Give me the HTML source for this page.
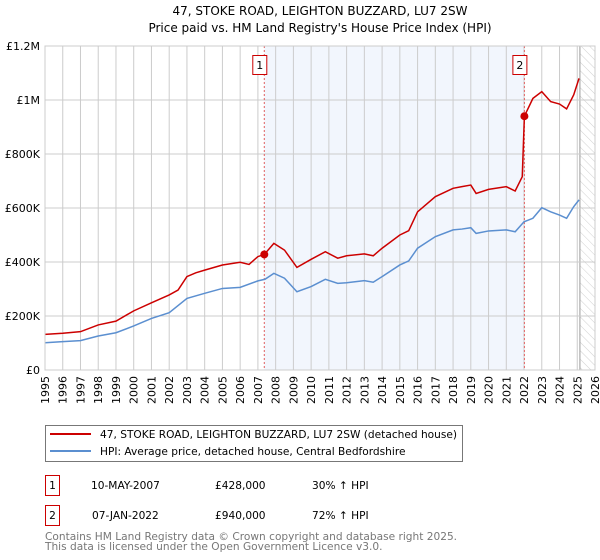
<!DOCTYPE html>
<html><head><meta charset="utf-8"><style>
body{margin:0;background:#fff;font-family:"DejaVu Sans","Liberation Sans",sans-serif;}
svg{display:block}
</style></head><body>
<svg width="600" height="560" xmlns="http://www.w3.org/2000/svg" font-family="DejaVu Sans, Liberation Sans, sans-serif">
<text x="320" y="15" text-anchor="middle" font-size="12">47, STOKE ROAD, LEIGHTON BUZZARD, LU7 2SW</text>
<text x="320" y="32" text-anchor="middle" font-size="12">Price paid vs. HM Land Registry's House Price Index (HPI)</text>
<defs><pattern id="hatch" width="6" height="6" patternUnits="userSpaceOnUse" patternTransform="rotate(-45)"><line x1="0" y1="0" x2="0" y2="6" stroke="#bbb" stroke-width="0.7"/></pattern></defs>
<g id="plot"></g>
<g>
<rect x="45.5" y="425.5" width="417" height="36" fill="#fff" stroke="#777"/>
<line x1="50" y1="434" x2="91" y2="434" stroke="#cc0000" stroke-width="2"/>
<text x="100" y="438" font-size="10.6">47, STOKE ROAD, LEIGHTON BUZZARD, LU7 2SW (detached house)</text>
<line x1="50" y1="451" x2="91" y2="451" stroke="#5b8fd0" stroke-width="2"/>
<text x="100" y="455" font-size="10.6">HPI: Average price, detached house, Central Bedfordshire</text>
</g>
<g font-size="10.6">
<rect x="45.5" y="475.5" width="14" height="20" fill="#fff" stroke="#cc0000"/>
<text x="52.5" y="489" text-anchor="middle">1</text>
<text x="91" y="489">10-MAY-2007</text>
<text x="215" y="489">£428,000</text>
<text x="312" y="489">30% ↑ HPI</text>
<rect x="45.5" y="505.5" width="14" height="20" fill="#fff" stroke="#cc0000"/>
<text x="52.5" y="519" text-anchor="middle">2</text>
<text x="92" y="519">07-JAN-2022</text>
<text x="215" y="519">£940,000</text>
<text x="312" y="519">72% ↑ HPI</text>
</g>
<text x="45" y="540" font-size="10.6" fill="#777">Contains HM Land Registry data © Crown copyright and database right 2025.</text>
<text x="45" y="550" font-size="10.6" fill="#777">This data is licensed under the Open Government Licence v3.0.</text>
</svg>
<script>
const hpiYears=[1995,1996,1997,1998,1999,2000,2001,2002,2003,2004,2005,2006,2007,2007.4,2007.9,2008.5,2009.2,2010,2010.8,2011.5,2012,2013,2013.5,2014,2015,2015.5,2016,2017,2018,2018.5,2019,2019.3,2020,2021,2021.5,2022,2022.5,2023,2023.5,2024,2024.4,2024.8,2025.1];
const hpiValues=[101,105,109,126,138,163,191,212,265,284,302,306,330,336,358,340,290,309,336,321,323,331,325,346,389,404,451,494,519,522,527,506,515,519,512,549,562,601,586,574,562,605,630];
const priceYears=[1995,1996,1997,1998,1999,2000,2001,2002,2002.5,2003,2003.5,2004,2005,2006,2006.5,2007,2007.36,2007.9,2008.5,2009.2,2010,2010.8,2011.5,2012,2013,2013.5,2014,2015,2015.5,2016,2017,2018,2018.5,2019,2019.3,2020,2021,2021.5,2021.9,2022.02,2022.5,2023,2023.5,2024,2024.4,2024.8,2025.1];
const priceValues=[132,136,142,167,181,219,249,278,296,346,360,370,389,399,391,420,428,469,444,380,410,438,414,423,430,423,451,500,516,586,642,673,679,685,654,669,679,663,716,940,1006,1031,994,985,967,1019,1080];
const saleYears=[2007.36,2022.02];
const saleValues=[428,940];
const saleLabels=["1","2"];
const yTicks=[0,200,400,600,800,1000,1200];
const yTickLabels=["£0","£200K","£400K","£600K","£800K","£1M","£1.2M"];
const xTicks=[];for(let y=1995;y<=2026;y++)xTicks.push(y);

const X0=45,X1=595,Y0=370,Y1=46;
const x=v=>X0+(v-1995)/(2026-1995)*(X1-X0);
const y=v=>Y0-v/1200*(Y0-Y1);
const NS="http://www.w3.org/2000/svg";
const g=document.getElementById('plot');
function mk(t,a){const e=document.createElementNS(NS,t);for(const k in a)e.setAttribute(k,a[k]);g.appendChild(e);return e;}

const shade=mk('rect',{x:x(saleYears[0]),y:Y1,width:x(saleYears[1])-x(saleYears[0]),height:Y0-Y1,fill:'#f2f6fd'});


const hat=mk('rect',{x:x(2025.15),y:Y1,width:X1-x(2025.15),height:Y0-Y1,fill:'url(#hatch)'});


mk('line',{x1:x(2025.15),x2:x(2025.15),y1:Y1,y2:Y0,stroke:'#999','stroke-width':1});

xTicks.forEach((t,i)=>{
 const l=mk('line',{x1:x(t),x2:x(t),y1:Y1,y2:Y0,stroke:'#cccccc','stroke-width':1});
 
 
 const tx=mk('text',{x:0,y:0,'font-size':11,'text-anchor':'end',transform:`translate(${x(t)+4},${Y0+6}) rotate(-90)`});
 tx.textContent=t;
 
 
});
yTicks.forEach((t,i)=>{
 const l=mk('line',{x1:X0,x2:X1,y1:y(t),y2:y(t),stroke:'#cccccc','stroke-width':1});
 
 
 const tx=mk('text',{x:X0-5,y:y(t)+4,'font-size':11,'text-anchor':'end'});
 tx.textContent=yTickLabels[i];
 
 
});
saleYears.forEach((s,i)=>{
 const l=mk('line',{x1:x(s),x2:x(s),y1:Y1,y2:Y0,stroke:'#e06060','stroke-width':1,'stroke-dasharray':'2,2'});
 
 
 const b=mk('rect',{x:x(s)-11.5,y:55.5,width:14,height:19,fill:'#fff',stroke:'#cc0000'});
 
 
 const t=mk('text',{x:x(s)-4.5,y:69,'font-size':11,'text-anchor':'middle'});
 t.textContent=saleLabels[i];
 
 
});
const hp=mk('polyline',{points:hpiYears.map((t,i)=>x(t)+','+y(hpiValues[i])).join(' '),fill:'none',stroke:'#5b8fd0','stroke-width':1.5});


const pp=mk('polyline',{points:priceYears.map((t,i)=>x(t)+','+y(priceValues[i])).join(' '),fill:'none',stroke:'#cc0000','stroke-width':1.5});


saleYears.forEach((s,i)=>{
 const c=mk('circle',{cx:x(s),cy:y(saleValues[i]),r:4,fill:'#cc0000'});
 
 
});
mk('rect',{x:X0,y:Y1,width:X1-X0,height:Y0-Y1,fill:'none',stroke:'#cccccc'});
</script>
</body></html>
